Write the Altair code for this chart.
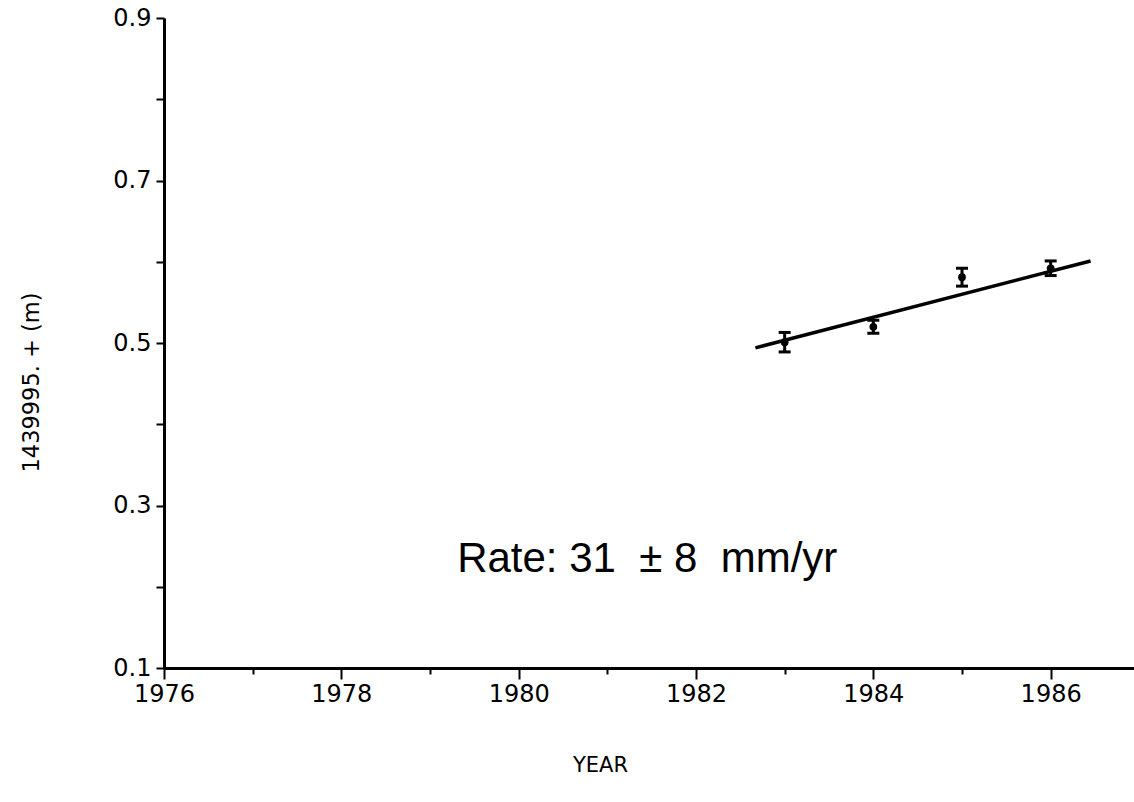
import altair as alt
import pandas as pd

# Survey epochs and measured heights (m, offset from 1439995.) with 1-sigma errors
years = [1983.0, 1984.0, 1985.0, 1986.0]
heights = [0.501, 0.520, 0.581, 0.592]
sigmas = [0.012, 0.008, 0.011, 0.009]

# End points of the fitted trend line
fit_years = [1982.67, 1986.45]
fit_heights = [0.494, 0.601]

# Axis ticks
x_ticks = [1976, 1977, 1978, 1979, 1980, 1981, 1982, 1983, 1984, 1985, 1986]
y_ticks = [0.1, 0.2, 0.3, 0.4, 0.5, 0.6, 0.7, 0.8, 0.9]

# Annotation
rate_text = "Rate: 31\u00a0\u00a0±\u00a08\u00a0\u00a0mm/yr"
rate_pos = (1981.45, 0.218)

obs = pd.DataFrame({
    "year": years,
    "h": heights,
    "lo": [h - s for h, s in zip(heights, sigmas)],
    "hi": [h + s for h, s in zip(heights, sigmas)],
})
fit = pd.DataFrame({"year": fit_years, "h": fit_heights})
note = pd.DataFrame({"year": [rate_pos[0]], "h": [rate_pos[1]], "t": [rate_text]})

x_scale = alt.Scale(domain=[1976, 1986.94], nice=False, zero=False)
y_scale = alt.Scale(domain=[0.1, 0.9], nice=False, zero=False)

x_axis = alt.Axis(
    values=x_ticks,
    format="d",
    labelExpr="datum.value % 2 == 0 ? datum.label : ''",
    labelFlush=False,
    tickSize={"condition": {"test": "datum.value % 2 == 0", "value": 11}, "value": 6},
    labelPadding=3,
    titleX=436,
    titleY=97,
    titleAlign="center",
    titleBaseline="middle",
    titleFontSize=21,
)
y_axis = alt.Axis(
    values=y_ticks,
    labelExpr="abs(round(datum.value * 10) % 2) == 1 ? format(datum.value, '.1f') : ''",
    labelFlush=False,
    tickSize=8,
    labelPadding=5,
    titleAngle=270,
    titleX=-133,
    titleY=364,
    titleAlign="center",
    titleBaseline="middle",
    titleFontSize=22.5,
)


def X(field="year"):
    return alt.X(f"{field}:Q", scale=x_scale, axis=x_axis, title="YEAR")


def Y(field):
    return alt.Y(f"{field}:Q", scale=y_scale, axis=y_axis, title="1439995. + (m)")


bars = alt.Chart(obs).mark_rule(color="black", strokeWidth=3).encode(
    x=X(), y=Y("lo"), y2="hi:Q"
)
caps_hi = alt.Chart(obs).mark_tick(
    orient="horizontal", color="black", size=12, thickness=3, opacity=1
).encode(x=X(), y=Y("hi"))
caps_lo = alt.Chart(obs).mark_tick(
    orient="horizontal", color="black", size=12, thickness=3, opacity=1
).encode(x=X(), y=Y("lo"))
dots = alt.Chart(obs).mark_point(
    filled=True, shape="circle", size=60, color="black", opacity=1
).encode(x=X(), y=Y("h"))
trend = alt.Chart(fit).mark_line(color="black", strokeWidth=3.5).encode(
    x=X(), y=Y("h")
)
label = alt.Chart(note).mark_text(
    font="Liberation Sans", fontSize=42, color="black", align="center", baseline="alphabetic"
).encode(x=X(), y=Y("h"), text="t:N")

chart = (
    alt.layer(trend, bars, caps_hi, caps_lo, dots, label)
    .properties(
        width=970,
        height=650,
        autosize=alt.AutoSizeParams(type="none"),
        padding={"left": 164, "top": 18, "right": 0, "bottom": 134},
        background="white",
    )
    .configure_view(stroke=None)
    .configure_axis(
        domainColor="black",
        domainWidth=3,
        tickColor="black",
        tickWidth=2,
        grid=False,
        labelFont="DejaVu Sans",
        labelFontSize=24,
        labelColor="black",
        titleFont="DejaVu Sans",
        titleFontWeight="normal",
        titleColor="black",
    )
)

chart.save("out.html", embed_options={"renderer": "svg", "actions": False})
